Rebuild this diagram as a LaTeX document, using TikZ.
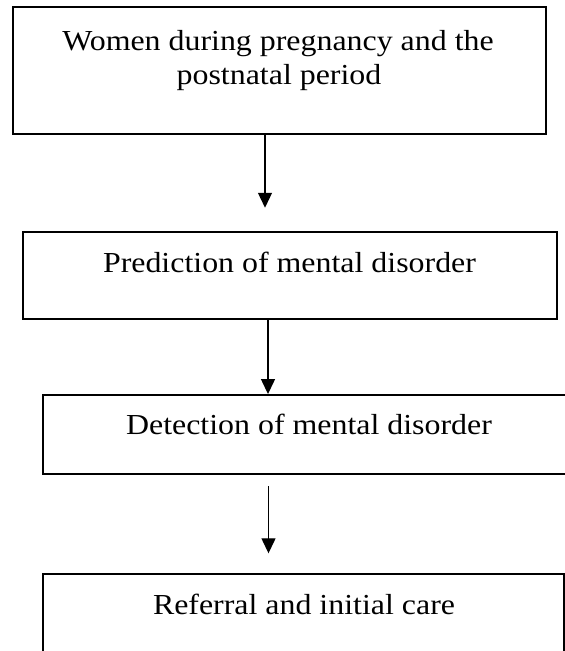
\documentclass[tikz,border=0pt]{standalone}
\usepackage{fontspec}
\setmainfont{Liberation Serif}[FakeStretch=1.1]
\usetikzlibrary{arrows.meta}
\begin{document}
\begin{tikzpicture}[x=1pt, y=-1pt,
  stagebox/.style={draw, line width=1.8pt, rectangle, inner sep=0pt, outer sep=0pt},
  caption/.style={anchor=base, inner sep=0pt, font=\fontsize{29}{33.5}\selectfont},
  flow/.style={line width=1.3pt, -{Triangle[length=15pt, width=14pt]}}]
  \useasboundingbox (0,0) rectangle (565,651);
  \clip (0,0) rectangle (565,651);

  % stage boxes
  \node[stagebox, minimum width=533pt, minimum height=127pt]  (b1) at (279.2,70.8) {};
  \node[stagebox, minimum width=533.3pt, minimum height=86.7pt] (b2) at (290,275.7) {};
  \node[stagebox, minimum width=533pt, minimum height=79.3pt]  (b3) at (309.2,434.7) {};
  \node[stagebox, minimum width=521.3pt, minimum height=120pt] (b4) at (303.4,634.3) {};

  % box texts
  \node[caption] (t1a) at (278,50) {Women during pregnancy and the};
  \node[caption] (t1b) at (279,84) {postnatal period};
  \node[caption] (t2) at (289.5,272) {Prediction of mental disorder};
  \node[caption] (t3) at (309,434.5) {Detection of mental disorder};
  \node[caption] (t4) at (304,614) {Referral and initial care};

  % connectors
  \coordinate (c1) at (265,0);
  \coordinate (c2) at (268,0);
  \coordinate (c3) at (268.5,0);
  \draw[flow, shorten >=24.6pt] (b1.south -| c1) -- (b2.north -| c1);
  \draw[flow, shorten >=1pt] (b2.south -| c2) -- (b3.north -| c2);
  \draw[flow, shorten <=11.7pt, shorten >=21pt] (b3.south -| c3) -- (b4.north -| c3);
\end{tikzpicture}
\end{document}
